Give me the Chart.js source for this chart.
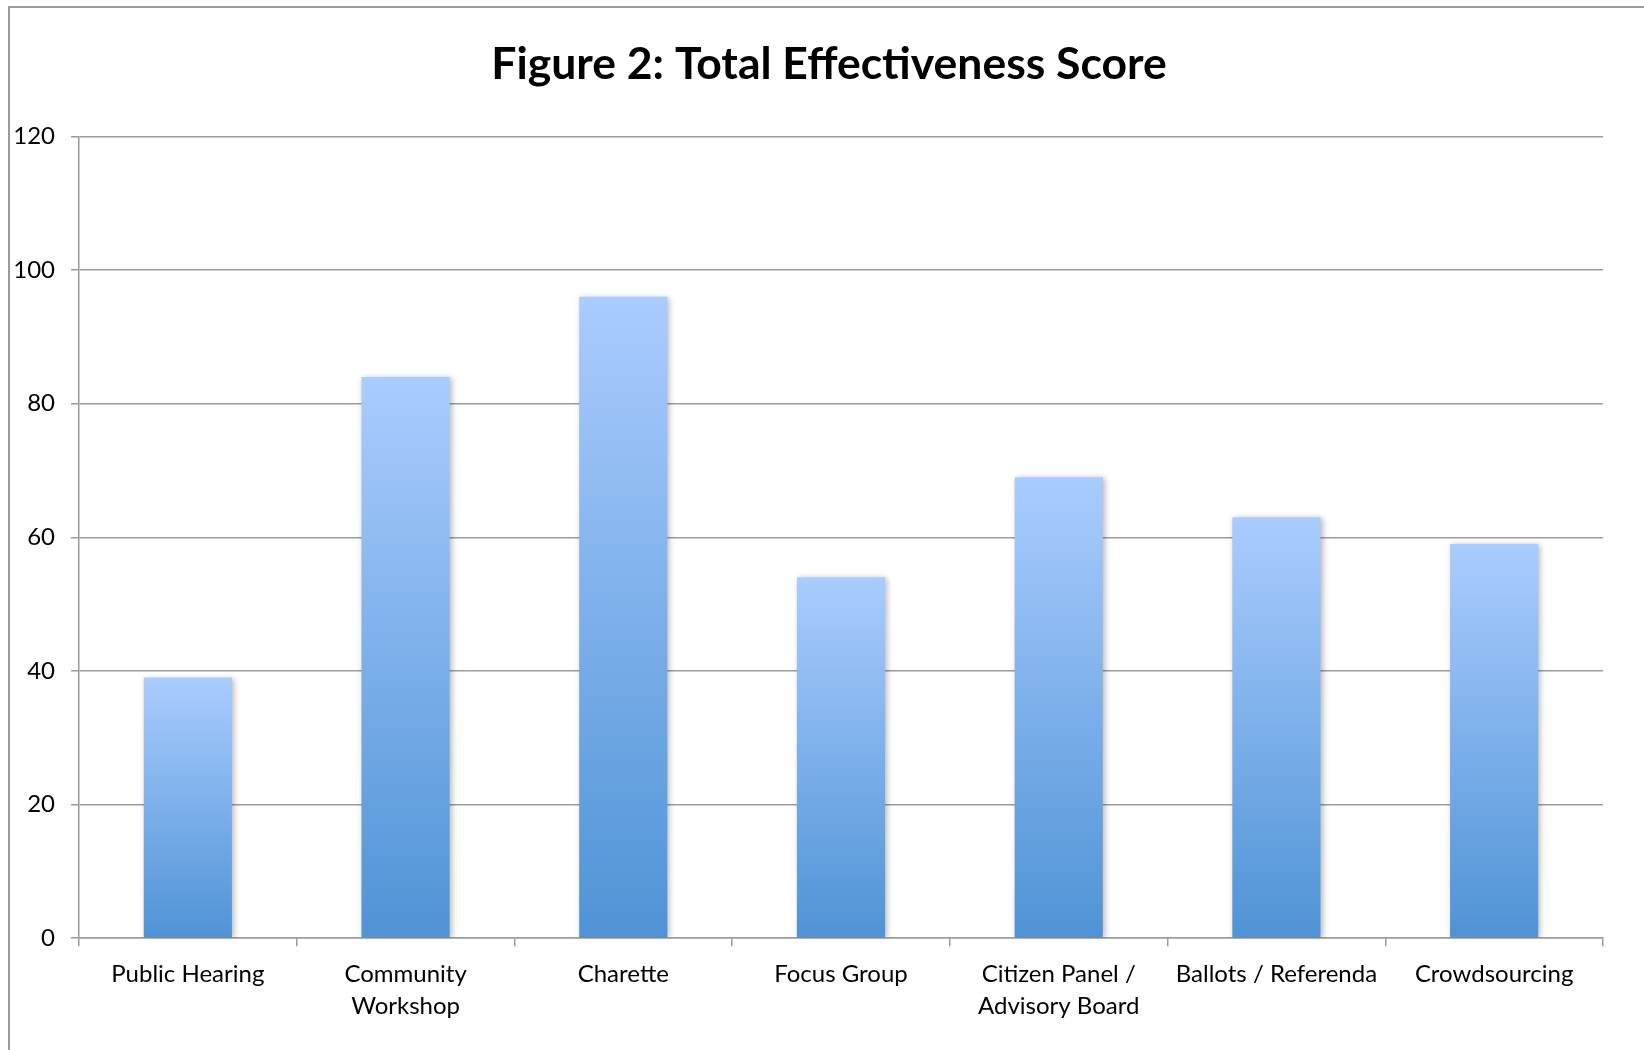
<!DOCTYPE html>
<html>
<head>
<meta charset="utf-8">
<script src="https://cdn.jsdelivr.net/npm/chart.js@4.4.1/dist/chart.umd.min.js"></script>
<style>
  html, body { margin: 0; padding: 0; background: #fff; overflow: hidden; }
  #frame { position: absolute; left: 8px; top: 6px; width: 1700px; height: 1100px; border: 2px solid #9a9a9a; box-sizing: border-box; }
  #wrap { position: absolute; left: 0; top: 0; width: 1644px; height: 1050px; }
</style>
</head>
<body>
<div id="frame"></div>
<div id="wrap"><canvas id="c" width="1644" height="1050"></canvas></div>
<script>
const titleText = "Figure 2: Total Effectiveness Score";
const categories = [
  "Public Hearing",
  ["Community", "Workshop"],
  "Charette",
  "Focus Group",
  ["Citizen Panel /", "Advisory Board"],
  "Ballots / Referenda",
  "Crowdsourcing"
];
const scores = [39, 84, 96, 54, 69, 63, 59];
const yTicks = [0, 20, 40, 60, 80, 100, 120];

const FONT = "Lato, 'Open Sans', sans-serif";
const GRID = "#9c9c9c";

const shadowPlugin = {
  id: 'barShadow',
  beforeDatasetsDraw(chart) {
    const ctx = chart.ctx;
    ctx.save();
    ctx.shadowColor = 'rgba(0,0,0,0.28)';
    ctx.shadowBlur = 6;
    ctx.shadowOffsetX = 2;
    ctx.shadowOffsetY = 1;
  },
  afterDatasetsDraw(chart) {
    chart.ctx.restore();
  }
};

// centre the title over the whole frame rather than over the padded layout box
const titleCentre = {
  id: 'titleCentre',
  afterLayout(chart) {
    const t = chart.titleBlock;
    if (t) { t.left = 0; t.right = chart.width + 14; t.width = t.right - t.left; }
  }
};

new Chart(document.getElementById('c'), {
  type: 'bar',
  data: {
    labels: categories,
    datasets: [{
      data: scores,
      backgroundColor(context) {
        const chart = context.chart;
        const y = chart.scales.y;
        if (!y || context.parsed === undefined || context.parsed === null) return '#7fb0ea';
        const top = y.getPixelForValue(context.parsed.y);
        const bottom = y.getPixelForValue(0);
        if (!isFinite(top) || !isFinite(bottom) || top === bottom) return '#7fb0ea';
        const g = chart.ctx.createLinearGradient(0, top, 0, bottom);
        g.addColorStop(0, '#aaccff');
        g.addColorStop(1, '#4f93d5');
        return g;
      },
      borderWidth: 0,
      categoryPercentage: 1.0,
      barPercentage: 0.405
    }]
  },
  options: {
    responsive: false,
    animation: false,
    devicePixelRatio: 1,
    layout: { padding: { left: 0, right: 41, top: 0, bottom: 16 } },
    plugins: {
      legend: { display: false },
      tooltip: { enabled: false },
      title: {
        display: true,
        text: titleText,
        color: '#000',
        font: { family: FONT, size: 44.5, weight: 'bold', lineHeight: 1.2 },
        padding: { top: 38, bottom: 45 }
      }
    },
    scales: {
      x: {
        grid: { display: true, drawOnChartArea: false, drawTicks: true, tickLength: 8, color: GRID, lineWidth: 1.5 },
        border: { display: true, color: GRID, width: 1.5 },
        ticks: {
          color: '#000',
          font: { family: FONT, size: 24, lineHeight: 1.33 },
          padding: 12,
          maxRotation: 0,
          autoSkip: false
        }
      },
      y: {
        min: 0,
        max: 120,
        afterFit(scale) { scale.width = 79; },
        afterBuildTicks(scale) { scale.ticks = yTicks.map(v => ({ value: v })); },
        grid: { display: true, drawTicks: true, tickLength: 8, color: GRID, lineWidth: 1.5 },
        border: { display: true, color: GRID, width: 1.5 },
        ticks: {
          color: '#000',
          font: { family: FONT, size: 24 },
          padding: 16
        }
      }
    }
  },
  plugins: [shadowPlugin, titleCentre]
});
</script>
</body>
</html>
